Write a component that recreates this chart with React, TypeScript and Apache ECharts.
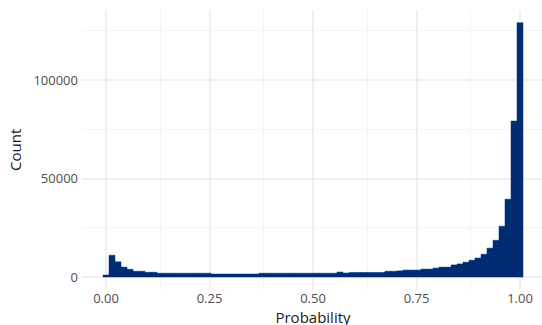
import React, { useEffect, useRef } from "react";
import * as echarts from "echarts";

// Histogram: 70 bins spanning [-0.5/69, 1 + 0.5/69], centred on 0 … 1
const binCount = 70;
const counts = [
  1000, 11000, 7700, 5000, 3900, 2900, 2900, 2400, 2400,
  1900, 1900, 1900, 1900, 1900, 1900, 1900, 1900, 1900,
  1500, 1500, 1500, 1500, 1500, 1500, 1500, 1500,
  1900, 1900, 1900, 1900, 1900, 1900, 1900, 1900, 1900, 1900, 1900, 1900, 1900,
  2500, 2000,
  2300, 2300, 2300, 2300, 2300, 2300,
  2900, 2900, 3100,
  3500, 3500, 3500,
  4000, 4000,
  4500,
  5000, 5000,
  6100, 6600, 7500, 8500, 9600, 11500, 14600, 18600, 25700, 39400, 79000, 128800,
];

const xMajor = [0, 0.25, 0.5, 0.75, 1];
const xMinor = [0.125, 0.375, 0.625, 0.875];
const xLabels = ["0.00", "0.25", "0.50", "0.75", "1.00"];
const yMajor = [0, 50000, 100000];
const yMinor = [25000, 75000, 125000];

const BAR_COLOR = "#002d72";

export default function App() {
  const ref = useRef<HTMLDivElement>(null);
  useEffect(() => {
    if (!ref.current) return;
    const chart = echarts.init(ref.current, undefined, { renderer: "svg" });
    const width = 1 / (binCount - 1);
    const data = counts.map((c, i) => [i * width - width / 2, i * width + width / 2, c]);
    const xMinV = -width / 2 - 0.05 * (1 + width);
    const xMaxV = 1 + width / 2 + 0.05 * (1 + width);
    const yTop = Math.max(...counts);
    const yMinV = -0.05 * yTop;
    const yMaxV = yTop * 1.05;
    const font = "Open Sans";
    const majorStyle = { color: "#ebebeb", width: 1.6, type: "solid" as const };
    const minorStyle = { color: "#f3f3f3", width: 0.9, type: "solid" as const };

    chart.setOption({
      animation: false,
      grid: { left: 82, top: 10, width: 462, height: 279.7, outerBoundsMode: "none", containLabel: false },
      xAxis: {
        type: "value",
        min: xMinV,
        max: xMaxV,
        name: "Probability",
        nameLocation: "middle",
        nameGap: 20,
        nameTextStyle: { fontFamily: font, fontSize: 15, color: "#1a1a1a" },
        axisLine: { show: false },
        axisTick: { show: false },
        splitLine: { show: false },
        axisLabel: {
          customValues: xMajor,
          formatter: (v: number) => xLabels[xMajor.findIndex((m) => Math.abs(m - v) < 1e-6)] ?? "",
          fontFamily: font,
          fontSize: 13,
          color: "#4d4d4d",
          margin: 2,
        },
      },
      yAxis: {
        type: "value",
        min: yMinV,
        max: yMaxV,
        name: "Count",
        nameLocation: "middle",
        nameGap: 58,
        nameTextStyle: { fontFamily: font, fontSize: 15, color: "#1a1a1a" },
        axisLine: { show: false },
        axisTick: { show: false },
        splitLine: { show: false },
        axisLabel: {
          customValues: yMajor,
          formatter: (v: number) => String(Math.round(v)),
          fontFamily: font,
          fontSize: 13,
          color: "#4d4d4d",
          margin: 4,
        },
      },
      series: [
        {
          type: "line",
          data: [],
          z: 1,
          silent: true,
          markLine: {
            silent: true,
            z: 1,
            symbol: "none",
            label: { show: false },
            animation: false,
            data: [
              ...xMinor.map((v) => ({ xAxis: v, lineStyle: minorStyle })),
              ...yMinor.map((v) => ({ yAxis: v, lineStyle: minorStyle })),
              ...xMajor.map((v) => ({ xAxis: v, lineStyle: majorStyle })),
              ...yMajor.map((v) => ({ yAxis: v, lineStyle: majorStyle })),
            ],
          },
        },
        {
          type: "custom",
          z: 10,
          data,
          encode: { x: [0, 1], y: 2 },
          renderItem: (params: any, api: any) => {
            const p0 = api.coord([api.value(0), api.value(2)]);
            const p1 = api.coord([api.value(1), 0]);
            return {
              type: "rect",
              shape: { x: p0[0], y: p0[1], width: p1[0] - p0[0], height: p1[1] - p0[1] },
              style: { fill: BAR_COLOR, stroke: BAR_COLOR, lineWidth: 0.5 },
            };
          },
        },
      ],
    });
    return () => chart.dispose();
  }, []);
  return (
    <div
      ref={ref}
      style={{ position: "fixed", left: 0, top: 0, width: 542, height: 325, background: "#fff" }}
    />
  );
}
